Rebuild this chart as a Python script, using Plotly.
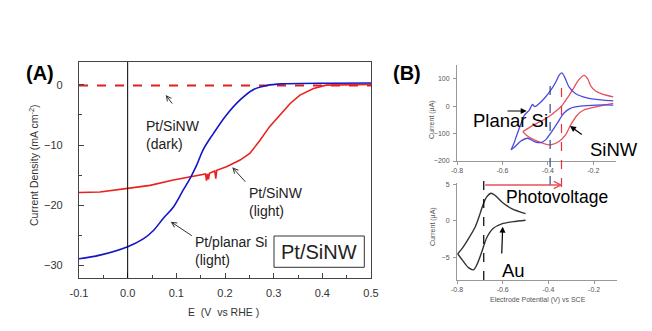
import plotly.graph_objects as go

# ---------------- data (panel A) ----------------
planar_light_E = [-0.1, -0.057, 0.0, 0.032, 0.053, 0.073, 0.094, 0.114, 0.128, 0.142, 0.155, 0.176, 0.203, 0.231, 0.258, 0.286, 0.32, 0.42, 0.5]
planar_light_J = [-28.9, -28.3, -26.9, -25.6, -24.2, -22.2, -20.3, -17.5, -15.6, -13.3, -10.8, -8.1, -5.0, -2.5, -0.8, -0.1, 0.17, 0.28, 0.3]

sinw_light_E = [-0.1, -0.057, 0.0, 0.046, 0.094, 0.149, 0.16, 0.162, 0.164, 0.166, 0.168, 0.179, 0.181, 0.183, 0.203, 0.231, 0.251, 0.272, 0.292, 0.313, 0.334, 0.354, 0.382, 0.408, 0.5]
sinw_light_J = [-17.9, -17.8, -17.2, -16.7, -15.8, -14.9, -14.8, -15.9, -14.8, -15.7, -14.7, -14.3, -15.6, -14.2, -13.6, -12.5, -11.4, -9.2, -6.9, -5.0, -3.1, -1.7, -0.6, -0.05, 0.05]

sinw_dark_E = [-0.1, 0.5]
sinw_dark_J = [-0.1, -0.1]

# ---------------- data (panel B) ----------------
planar_fwd_V = [-0.562, -0.55, -0.539, -0.518, -0.503, -0.481, -0.468, -0.457, -0.438, -0.416, -0.387, -0.365, -0.351, -0.339, -0.326, -0.307, -0.279, -0.228, -0.155, -0.112]
planar_fwd_I = [-159, -137, -111, -63, -33, -14, 6, -2, 10, 28, 58, 88, 112, 121, 106, 70, 46, 30, 22, 19]
planar_rev_V = [-0.112, -0.185, -0.257, -0.301, -0.33, -0.359, -0.388, -0.41, -0.431, -0.46, -0.489, -0.52, -0.545, -0.562]
planar_rev_I = [4, 4, 0, -8, -26, -63, -99, -123, -133, -129, -117, -128, -148, -159]

sinw_fwd_V = [-0.51, -0.47, -0.43, -0.39, -0.36, -0.34, -0.31, -0.285, -0.265, -0.24, -0.225, -0.21, -0.19, -0.16, -0.112]
sinw_fwd_I = [-93, -72, -55, -35, -15, 0, 35, 68, 95, 112, 100, 72, 55, 44, 34]
sinw_rev_V = [-0.112, -0.184, -0.242, -0.271, -0.3, -0.322, -0.351, -0.387, -0.423, -0.46, -0.496, -0.51]
sinw_rev_I = [10, -2, -14, -33, -69, -105, -129, -141, -135, -123, -105, -93]

au_fwd_V = [-0.797, -0.778, -0.757, -0.72, -0.699, -0.684, -0.67, -0.651, -0.633, -0.604, -0.561, -0.5]
au_fwd_I = [-4.5, -3.8, -2.8, -0.8, 1.0, 2.4, 3.3, 3.8, 3.5, 2.6, 1.7, 1.0]
au_rev_V = [-0.5, -0.554, -0.604, -0.641, -0.67, -0.691, -0.713, -0.728, -0.75, -0.778, -0.797]
au_rev_I = [0.1, -0.1, -0.4, -1.0, -2.3, -4.2, -6.0, -6.7, -6.4, -5.3, -4.5]

onset_au = -0.683
onset_planar = -0.39
onset_sinw = -0.34

W, H = 652, 331
FONT = "Liberation Sans, Arial, sans-serif"


def px(x):
    return x / W


def py(y):
    return 1 - y / H


fig = go.Figure()

# Panel A
fig.add_trace(go.Scatter(x=sinw_dark_E, y=sinw_dark_J, mode="lines",
                         line=dict(color="#e02020", width=2, dash="dash"), xaxis="x", yaxis="y"))
fig.add_trace(go.Scatter(x=sinw_light_E, y=sinw_light_J, mode="lines",
                         line=dict(color="#e8231f", width=1.6), xaxis="x", yaxis="y"))
fig.add_trace(go.Scatter(x=planar_light_E, y=planar_light_J, mode="lines", line_shape="spline",
                         line=dict(color="#1515c8", width=1.6), xaxis="x", yaxis="y"))

# Panel B top
for vx, vy in ((sinw_fwd_V, sinw_fwd_I), (sinw_rev_V, sinw_rev_I)):
    fig.add_trace(go.Scatter(x=vx, y=vy, mode="lines", line=dict(color="#e8505a", width=1.3, shape="spline", smoothing=0.8),
                             xaxis="x2", yaxis="y2"))
for vx, vy in ((planar_fwd_V, planar_fwd_I), (planar_rev_V, planar_rev_I)):
    fig.add_trace(go.Scatter(x=vx, y=vy, mode="lines", line=dict(color="#4a4ae0", width=1.3, shape="spline", smoothing=0.8),
                             xaxis="x2", yaxis="y2"))

# Panel B bottom
for vx, vy in ((au_fwd_V, au_fwd_I), (au_rev_V, au_rev_I)):
    fig.add_trace(go.Scatter(x=vx, y=vy, mode="lines", line=dict(color="#333333", width=1.4, shape="spline", smoothing=0.8),
                             xaxis="x3", yaxis="y3"))

shapes = [
    # x = 0 line in panel A
    dict(type="line", xref="x", yref="paper", x0=0, x1=0, y0=py(278), y1=py(62),
         line=dict(color="black", width=1)),
    # Pt/SiNW box
    dict(type="rect", xref="paper", yref="paper", x0=px(274), x1=px(364.3), y0=py(267.3), y1=py(236),
         line=dict(color="#333333", width=1)),
    # dashed onset lines
    dict(type="line", xref="x3", yref="paper", x0=onset_au, x1=onset_au, y0=py(280), y1=py(179),
         line=dict(color="black", width=1.2, dash="dash")),
    dict(type="line", xref="x2", yref="paper", x0=onset_planar, x1=onset_planar, y0=py(203), y1=py(83),
         line=dict(color="#2a4a90", width=1.2, dash="dash")),
    dict(type="line", xref="x2", yref="paper", x0=onset_sinw, x1=onset_sinw, y0=py(187), y1=py(83),
         line=dict(color="#e83040", width=1.2, dash="dash")),
]

ann = []


def text(x, y, s, size, anchor="left", bold=False, color="black", angle=0):
    ann.append(dict(xref="paper", yref="paper", x=px(x), y=py(y), text=("<b>%s</b>" % s) if bold else s,
                    showarrow=False, xanchor=anchor, yanchor="middle", align="left", textangle=angle,
                    font=dict(family=FONT, size=size, color=color)))


def arrow(tail, tip, head=5, color="#333333", width=1, size=1.0):
    ann.append(dict(xref="paper", yref="paper", x=px(tip[0]), y=py(tip[1]), text="",
                    showarrow=True, ax=tail[0] - tip[0], ay=tail[1] - tip[1],
                    arrowhead=head, arrowcolor=color, arrowwidth=width, arrowsize=size, standoff=0))


text(39.5, 73, "(A)", 20, anchor="center", bold=True)
text(406.7, 73, "(B)", 20, anchor="center", bold=True)

text(144, 135.4, "Pt/SiNW<br>(dark)", 14, color="#222222")
text(246.7, 202, "Pt/SiNW<br>(light)", 14, color="#222222")
text(193.3, 250.5, "Pt/planar Si<br>(light)", 14, color="#222222")
text(319.2, 252, "Pt/SiNW", 20, anchor="center", color="#222222")
arrow((173.3, 105), (165.7, 95))
arrow((246.7, 183.3), (232.3, 167.3))
arrow((193.3, 236.7), (170.7, 221.7))

text(33, 166, "Current Density (mA cm<sup>-2</sup>)", 10.5, anchor="center", color="#333333", angle=-90)
text(223, 311.5, "E  (V  vs RHE )", 10.5, anchor="center", color="#333333")

text(470.7, 120, "Planar Si", 18.5)
text(588, 149, "SiNW", 18.5)
text(504, 197, "Photovoltage", 17.5)
text(500, 270.7, "Au", 18.5)
arrow((506, 111), (526.7, 111), head=2, color="black", width=1.2)
arrow((583.3, 135.7), (570, 126), head=2, color="black", width=1.2)
arrow((501.7, 255), (502.7, 226.7), head=2, color="black", width=1.2)
arrow((483.7, 185), (562.5, 185), head=5, color="#e8505a", width=1.4)

text(432, 119, "Current (\u00b5A)", 7, anchor="center", color="#555555", angle=-90)
text(433, 227, "Current (\u00b5A)", 7, anchor="center", color="#555555", angle=-90)
text(537.5, 300, "Electrode Potential (V) vs SCE", 7, anchor="center", color="#555555")

axA = dict(showgrid=False, zeroline=False, showline=True, mirror=True, linecolor="#444444", linewidth=1.2,
           ticks="inside", ticklen=5, tickcolor="#444444", automargin=False,
           tickfont=dict(family=FONT, size=11, color="#333333"))
axB = dict(showgrid=False, zeroline=False, showline=True, linecolor="#999999", linewidth=1,
           ticks="outside", ticklen=3, tickcolor="#999999", automargin=False,
           tickfont=dict(family=FONT, size=7, color="#555555"))

fig.update_layout(
    width=W, height=H, margin=dict(l=0, r=0, t=0, b=0, pad=0), autosize=False,
    paper_bgcolor="white", plot_bgcolor="white", showlegend=False,
    font=dict(family=FONT),
    xaxis=dict(axA, domain=[px(79), px(371)], range=[-0.1, 0.5], tickvals=[-0.1, 0, 0.1, 0.2, 0.3, 0.4, 0.5],
               ticktext=["-0.1", "0.0", "0.1", "0.2", "0.3", "0.4", "0.5"],
               minor=dict(tickvals=[-0.05, 0.05, 0.15, 0.25, 0.35, 0.45], ticks="inside", ticklen=3, tickcolor="#444444"),
               anchor="y", ticklabelstandoff=5),
    yaxis=dict(axA, domain=[py(278), py(62)], range=[-32.1, 3.8], tickvals=[0, -10, -20, -30],
               minor=dict(tickvals=[-5, -15, -25], ticks="inside", ticklen=3, tickcolor="#444444"),
               anchor="x", ticklabelstandoff=13),
    xaxis2=dict(axB, domain=[px(457), px(616)], range=[-0.8, -0.1], tickvals=[-0.8, -0.6, -0.4, -0.2],
                ticktext=["-0.8", "-0.6", "-0.4", "-0.2"], anchor="y2"),
    yaxis2=dict(axB, domain=[py(161), py(65)], range=[-200, 150], tickvals=[100, 0, -100, -200], anchor="x2",
                ticklabelstandoff=2),
    xaxis3=dict(axB, domain=[px(457), px(617)], range=[-0.8, -0.1], tickvals=[-0.8, -0.6, -0.4, -0.2],
                ticktext=["-0.8", "-0.6", "-0.4", "-0.2"], anchor="y3"),
    yaxis3=dict(axB, domain=[py(280), py(183)], range=[-8.1, 5.2], tickvals=[5, 0, -5], anchor="x3",
                ticklabelstandoff=2),
    shapes=shapes, annotations=ann,
)

fig.write_html("out.html")
